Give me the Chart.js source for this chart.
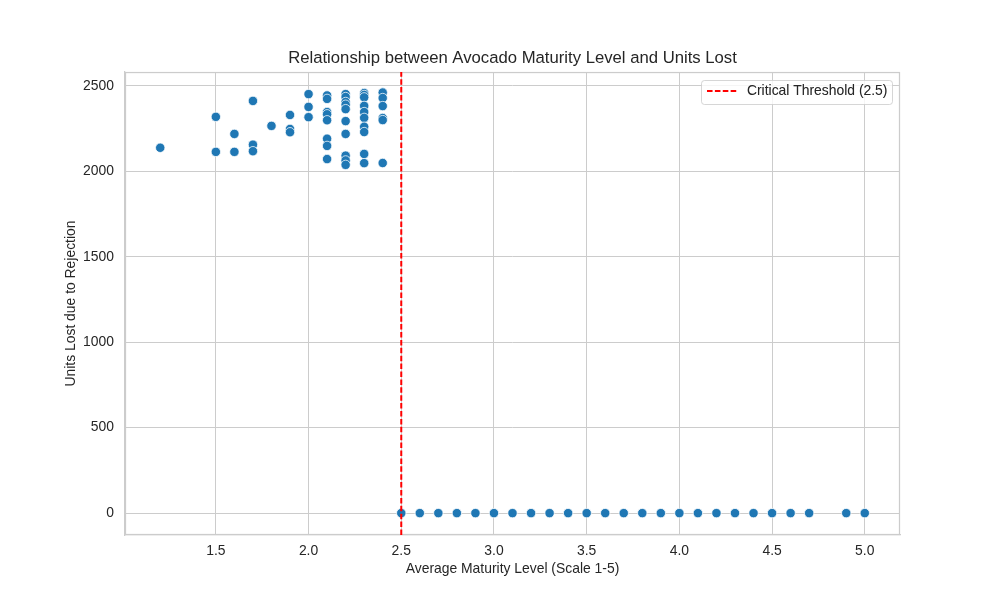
<!DOCTYPE html>
<html>
<head>
<meta charset="utf-8">
<script src="https://cdn.jsdelivr.net/npm/chart.js@4"></script>
<style>
  html, body { margin: 0; padding: 0; background: #ffffff; }
  #wrap { width: 1000px; height: 600px; }
</style>
</head>
<body>
<div id="wrap"><canvas id="c" width="1000" height="600"></canvas></div>
<script>
// ---- data ----
const maturityLevels = [
  1.2,
  1.5, 1.5,
  1.6, 1.6,
  1.7, 1.7, 1.7,
  1.8,
  1.9, 1.9, 1.9,
  2.0, 2.0, 2.0,
  2.1, 2.1, 2.1, 2.1, 2.1, 2.1, 2.1, 2.1,
  2.2, 2.2, 2.2, 2.2, 2.2, 2.2, 2.2, 2.2, 2.2, 2.2,
  2.3, 2.3, 2.3, 2.3, 2.3, 2.3, 2.3, 2.3, 2.3, 2.3,
  2.4, 2.4, 2.4, 2.4, 2.4, 2.4,
  2.5, 2.6, 2.7, 2.8, 2.9, 3.0, 3.1, 3.2, 3.3, 3.4, 3.5, 3.6, 3.7, 3.8, 3.9,
  4.0, 4.1, 4.2, 4.3, 4.4, 4.5, 4.6, 4.7, 4.9, 5.0
];
const unitsLost = [
  2137,
  2318, 2113,
  2218, 2113,
  2411, 2155, 2117,
  2265,
  2329, 2247, 2228,
  2451, 2376, 2316,
  2443, 2423, 2346, 2333, 2298, 2190, 2148, 2071,
  2451, 2434, 2405, 2389, 2363, 2293, 2218, 2091, 2063, 2037,
  2457, 2446, 2432, 2382, 2346, 2312, 2260, 2229, 2101, 2047,
  2460, 2428, 2381, 2311, 2299, 2048,
  0, 0, 0, 0, 0, 0, 0, 0, 0, 0, 0, 0, 0, 0, 0,
  0, 0, 0, 0, 0, 0, 0, 0, 0, 0
];
const thresholdValue = 2.5;
const thresholdLabel = 'Critical Threshold (2.5)';
const xTickValues = [1.5, 2.0, 2.5, 3.0, 3.5, 4.0, 4.5, 5.0];
const yTickValues = [0, 500, 1000, 1500, 2000, 2500];
const xRange = [1.01, 5.19];
const yRange = [-128, 2580];
const chartTitle = 'Relationship between Avocado Maturity Level and Units Lost';
const xLabel = 'Average Maturity Level (Scale 1-5)';
const yLabel = 'Units Lost due to Rejection';

// ---- build ----
const scatterPoints = maturityLevels.map((x, i) => ({ x: x, y: unitsLost[i] }));
const thresholdPoints = [{ x: thresholdValue, y: yRange[0] }, { x: thresholdValue, y: yRange[1] }];

const TEXT = '#262626';
const GRID = '#cccccc';
const FONT = '"Liberation Sans", Arial, Helvetica, sans-serif';
const DASH = [5.5, 2.4];

// legend swatch: dashed red line with a little trailing space before the text
const swatch = document.createElement('canvas');
swatch.width = 33; swatch.height = 4;
(function () {
  const c = swatch.getContext('2d');
  c.strokeStyle = '#ff0000';
  c.lineWidth = 2;
  c.setLineDash(DASH);
  c.beginPath();
  c.moveTo(0, 2); c.lineTo(29.5, 2);
  c.stroke();
})();

const framePlugin = {
  id: 'frameAndLegend',
  afterLayout(chart) {
    const ca = chart.chartArea;
    if (chart.titleBlock) {
      chart.titleBlock.left = ca.left;
      chart.titleBlock.right = ca.right;
    }
    const lg = chart.legend;
    if (!lg) return;
    const w = lg.width, h = lg.height;
    lg.left = 701; lg.top = 78;
    lg.right = lg.left + w; lg.bottom = lg.top + h;
  },
  beforeDatasetsDraw(chart) {
    const { ctx, chartArea } = chart;
    ctx.save();
    ctx.strokeStyle = GRID;
    ctx.lineWidth = 1.25;
    ctx.strokeRect(chartArea.left + 0.5, chartArea.top + 0.5, chartArea.right - chartArea.left - 1, chartArea.bottom - chartArea.top - 1);
    ctx.restore();
  },
  afterDatasetsDraw(chart) {
    const { ctx } = chart;
    ctx.save();
    ctx.globalAlpha = 0.8;
    ctx.fillStyle = '#ffffff';
    ctx.strokeStyle = GRID;
    ctx.lineWidth = 1;
    const x = 701.5, y = 80.5, w = 191, h = 24, r = 3;
    ctx.beginPath();
    ctx.moveTo(x + r, y);
    ctx.lineTo(x + w - r, y); ctx.quadraticCurveTo(x + w, y, x + w, y + r);
    ctx.lineTo(x + w, y + h - r); ctx.quadraticCurveTo(x + w, y + h, x + w - r, y + h);
    ctx.lineTo(x + r, y + h); ctx.quadraticCurveTo(x, y + h, x, y + h - r);
    ctx.lineTo(x, y + r); ctx.quadraticCurveTo(x, y, x + r, y);
    ctx.closePath();
    ctx.fill();
    ctx.stroke();
    ctx.restore();
    if (chart.legend) chart.legend.draw();
  }
};

new Chart(document.getElementById('c'), {
  type: 'scatter',
  data: {
    datasets: [
      {
        label: 'data',
        data: scatterPoints,
        backgroundColor: '#1f77b4',
        borderColor: '#ffffff',
        borderWidth: 0.75,
        pointRadius: 4.7,
        pointHoverRadius: 4.7,
        order: 1
      },
      {
        type: 'line',
        label: thresholdLabel,
        data: thresholdPoints,
        borderColor: '#ff0000',
        backgroundColor: '#ff0000',
        borderWidth: 2,
        borderDash: DASH,
        pointRadius: 0,
        fill: false,
        order: 0
      }
    ]
  },
  options: {
    responsive: false,
    animation: false,
    devicePixelRatio: 1,
    layout: { padding: { left: 0, right: 100, top: 0, bottom: 0 } },
    plugins: {
      title: {
        display: true,
        text: chartTitle,
        color: TEXT,
        font: { family: FONT, size: 16.7, weight: 'normal', lineHeight: 1.2 },
        padding: { top: 48, bottom: 4 }
      },
      legend: {
        display: true,
        position: 'chartArea',
        align: 'start',
        labels: {
          color: TEXT,
          font: { family: FONT, size: 13.9 },
          usePointStyle: true,
          pointStyleWidth: 33,
          boxWidth: 33,
          boxHeight: 10,
          padding: 6,
          generateLabels: (chart) => [{
            text: thresholdLabel,
            fillStyle: '#ff0000',
            strokeStyle: '#ff0000',
            lineWidth: 0,
            pointStyle: swatch,
            hidden: false,
            datasetIndex: 1,
            fontColor: TEXT
          }]
        }
      },
      tooltip: { enabled: false }
    },
    scales: {
      x: {
        type: 'linear',
        min: xRange[0],
        max: xRange[1],
        afterBuildTicks: (s) => { s.ticks = xTickValues.map(v => ({ value: v })); },
        afterFit: (s) => { s.height = 65; },
        grid: { color: GRID, lineWidth: 1, drawTicks: false },
        border: { display: true, color: GRID, width: 1.25 },
        ticks: {
          color: TEXT,
          font: { family: FONT, size: 13.9 },
          padding: 8,
          maxRotation: 0,
          callback: (v) => Number(v).toFixed(1)
        },
        title: {
          display: true,
          text: xLabel,
          color: TEXT,
          font: { family: FONT, size: 13.9 },
          padding: { top: 0, bottom: 22.7 }
        }
      },
      y: {
        type: 'linear',
        min: yRange[0],
        max: yRange[1],
        afterBuildTicks: (s) => { s.ticks = yTickValues.map(v => ({ value: v })); },
        afterFit: (s) => { s.width = 125; },
        grid: { color: GRID, lineWidth: 1, drawTicks: false },
        border: { display: true, color: GRID, width: 1.25 },
        ticks: {
          color: TEXT,
          font: { family: FONT, size: 13.9 },
          padding: 11,
          callback: (v) => String(v)
        },
        title: {
          display: true,
          text: yLabel,
          color: TEXT,
          font: { family: FONT, size: 13.9 },
          padding: { top: 62.7, bottom: 0 }
        }
      }
    }
  },
  plugins: [framePlugin]
});
</script>
</body>
</html>
